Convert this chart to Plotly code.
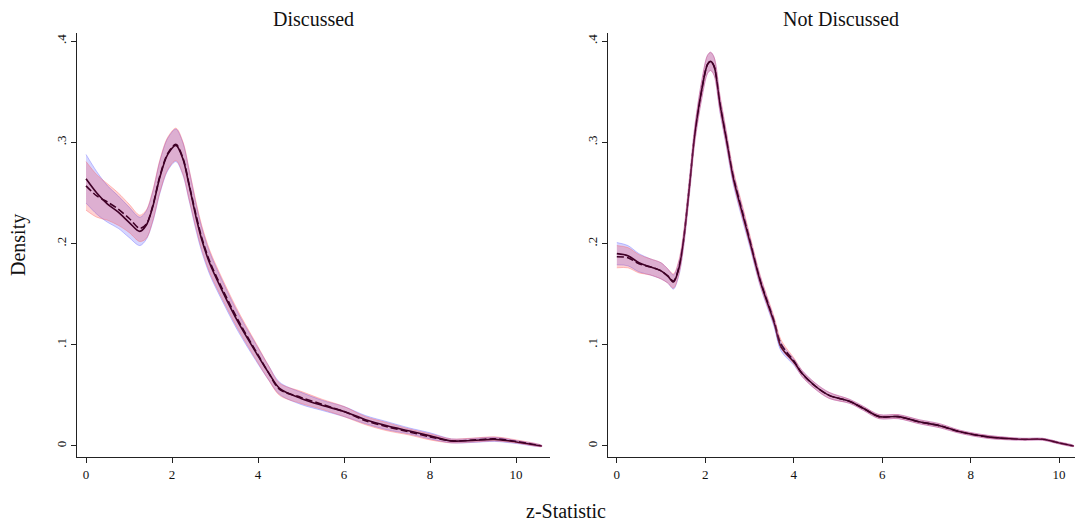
import numpy as np
import plotly.graph_objects as go

# ---------------- data ----------------
# Panel "Discussed"
disc_z = [0, 0.25, 0.5, 0.75, 1.0, 1.25, 1.4, 1.55, 1.72, 1.9, 2.09, 2.25, 2.4, 2.57, 2.69,
          2.88, 3.16, 3.54, 4.0, 4.25, 4.5, 5.0, 5.5, 6.0, 6.5, 7.0, 7.5, 8.0, 8.5, 9.0,
          9.5, 10.0, 10.6]
disc_solid = [0.264, 0.250, 0.239, 0.231, 0.221, 0.212, 0.218, 0.236, 0.266, 0.288, 0.297,
              0.284, 0.257, 0.224, 0.204, 0.180, 0.154, 0.122, 0.089, 0.072, 0.057, 0.047,
              0.040, 0.034, 0.026, 0.020, 0.015, 0.010, 0.005, 0.0055, 0.0065, 0.004, 0.0]
disc_dashed = [0.257, 0.247, 0.241, 0.234, 0.225, 0.215, 0.219, 0.237, 0.267, 0.289, 0.298,
               0.285, 0.258, 0.226, 0.206, 0.182, 0.156, 0.124, 0.090, 0.072, 0.056, 0.048,
               0.041, 0.034, 0.025, 0.019, 0.014, 0.009, 0.005, 0.0058, 0.007, 0.0045, 0.0]
disc_blue_hw = [0.024, 0.021, 0.018, 0.016, 0.015, 0.014, 0.014, 0.015, 0.016, 0.016, 0.016,
                0.016, 0.015, 0.013, 0.012, 0.011, 0.010, 0.009, 0.008, 0.007, 0.006, 0.006,
                0.005, 0.005, 0.004, 0.004, 0.003, 0.003, 0.002, 0.002, 0.002, 0.0015, 0.0005]
disc_red_hw = [0.024, 0.021, 0.018, 0.016, 0.014, 0.013, 0.014, 0.015, 0.016, 0.016, 0.016,
               0.016, 0.015, 0.013, 0.012, 0.011, 0.010, 0.009, 0.008, 0.007, 0.006, 0.006,
               0.005, 0.005, 0.004, 0.004, 0.003, 0.003, 0.002, 0.002, 0.002, 0.0015, 0.0005]

# Panel "Not Discussed"
nd_z = [0, 0.25, 0.5, 0.75, 1.0, 1.15, 1.28, 1.4, 1.5, 1.65, 1.76, 1.92, 2.05, 2.12, 2.2,
        2.33, 2.48, 2.63, 2.86, 3.01, 3.24, 3.56, 3.71, 4.02, 4.18, 4.49, 4.8, 5.27, 5.58,
        5.93, 6.36, 6.83, 7.3, 7.76, 8.39, 9.17, 9.63, 10.0, 10.33]
nd_solid = [0.190, 0.188, 0.181, 0.177, 0.173, 0.168, 0.162, 0.175, 0.200, 0.260, 0.307,
            0.352, 0.377, 0.380, 0.375, 0.338, 0.302, 0.265, 0.226, 0.201, 0.163, 0.121,
            0.098, 0.082, 0.072, 0.059, 0.050, 0.044, 0.037, 0.029, 0.029, 0.024, 0.020,
            0.014, 0.009, 0.0066, 0.0066, 0.003, 0.0]
nd_dashed = [0.187, 0.186, 0.180, 0.177, 0.173, 0.168, 0.163, 0.176, 0.201, 0.260, 0.307,
             0.352, 0.377, 0.380, 0.375, 0.339, 0.303, 0.267, 0.228, 0.203, 0.164, 0.123,
             0.101, 0.083, 0.072, 0.059, 0.050, 0.044, 0.037, 0.029, 0.029, 0.024, 0.020,
             0.014, 0.009, 0.0066, 0.0066, 0.003, 0.0]
nd_blue_hw = [0.011, 0.010, 0.009, 0.008, 0.008, 0.007, 0.007, 0.007, 0.007, 0.008, 0.008,
              0.009, 0.009, 0.009, 0.009, 0.008, 0.007, 0.006, 0.006, 0.005, 0.005, 0.004,
              0.004, 0.003, 0.003, 0.003, 0.003, 0.002, 0.002, 0.002, 0.002, 0.002, 0.002,
              0.0015, 0.0015, 0.001, 0.001, 0.001, 0.0005]
nd_red_hw = nd_blue_hw

x_ticks = [0, 2, 4, 6, 8, 10]
y_ticks = [0, 0.1, 0.2, 0.3, 0.4]
y_ticklabels = ["0", ".1", ".2", ".3", ".4"]
panel_titles = ["Discussed", "Not Discussed"]

# ---------------- figure ----------------
FONT = "Liberation Serif"
W, H = 1079, 524
fig = go.Figure()

BLUE_FILL = "rgba(0,0,255,0.16)"
RED_FILL = "rgba(255,0,0,0.18)"
BLUE_EDGE = "rgba(90,90,255,0.45)"
RED_EDGE = "rgba(255,90,90,0.45)"
LINE_COL = "#1a0008"


def add_panel(z, solid, dashed, blue_hw, red_hw, xa, ya):
    z = np.array(z, float)
    s = np.array(solid, float)
    d = np.array(dashed, float)
    bh = np.array(blue_hw, float)
    rh = np.array(red_hw, float)
    fig.add_trace(go.Scatter(x=z, y=s, mode="lines", xaxis=xa, yaxis=ya,
                             line=dict(color=LINE_COL, width=1.6, shape="spline", smoothing=0.9),
                             showlegend=False, hoverinfo="skip"))
    fig.add_trace(go.Scatter(x=z, y=d, mode="lines", xaxis=xa, yaxis=ya,
                             line=dict(color=LINE_COL, width=1.6, dash="7px,3px",
                                       shape="spline", smoothing=0.9),
                             showlegend=False, hoverinfo="skip"))
    for center, hw, fill, edge in [(s, bh, BLUE_FILL, BLUE_EDGE), (d, rh, RED_FILL, RED_EDGE)]:
        lo = center - hw
        hi = center + hw
        xs = np.concatenate([z, z[::-1]])
        ys = np.concatenate([hi, lo[::-1]])
        fig.add_trace(go.Scatter(x=xs, y=ys, mode="lines", xaxis=xa, yaxis=ya,
                                 fill="toself", fillcolor=fill,
                                 line=dict(color=edge, width=0.8, shape="spline", smoothing=0.9),
                                 showlegend=False, hoverinfo="skip"))


add_panel(disc_z, disc_solid, disc_dashed, disc_blue_hw, disc_red_hw, "x", "y")
add_panel(nd_z, nd_solid, nd_dashed, nd_blue_hw, nd_red_hw, "x2", "y2")

y_top, y_bot = 33, 457
ydom = [1 - y_bot / H, 1 - y_top / H]
left_dom = [77 / W, 550 / W]
right_dom = [608 / W, 1075 / W]
yrange = [-0.0109, 0.408]

axis_common = dict(showgrid=False, zeroline=False, showline=True, linecolor="#222",
                   linewidth=1.2, ticks="outside", ticklen=5, tickwidth=1, tickcolor="#222",
                   tickfont=dict(family=FONT, size=13, color="#111"))

fig.update_layout(
    width=W, height=H,
    margin=dict(l=0, r=0, t=0, b=0),
    paper_bgcolor="white", plot_bgcolor="white",
    xaxis=dict(domain=left_dom, range=[-0.21, 10.79], tickvals=x_ticks, anchor="y", **axis_common),
    yaxis=dict(domain=ydom, range=yrange, tickvals=y_ticks, ticktext=y_ticklabels,
               tickangle=-90, anchor="x", **axis_common),
    xaxis2=dict(domain=right_dom, range=[-0.2, 10.36], tickvals=x_ticks, anchor="y2", **axis_common),
    yaxis2=dict(domain=ydom, range=yrange, tickvals=y_ticks, ticktext=y_ticklabels,
                tickangle=-90, anchor="x2", **axis_common),
)

ann = [
    dict(text=panel_titles[0], x=(77 + 550) / 2 / W, y=1 - 19 / H),
    dict(text=panel_titles[1], x=(608 + 1075) / 2 / W, y=1 - 19 / H),
    dict(text="z-Statistic", x=566 / W, y=1 - 511 / H),
]
for a in ann:
    fig.add_annotation(text=a["text"], x=a["x"], y=a["y"], xref="paper", yref="paper",
                       showarrow=False, xanchor="center", yanchor="middle",
                       font=dict(family=FONT, size=20, color="#111"))
fig.add_annotation(text="Density", x=18 / W, y=1 - 245 / H, xref="paper", yref="paper",
                   showarrow=False, textangle=-90, xanchor="center", yanchor="middle",
                   font=dict(family=FONT, size=20, color="#111"))

fig.write_html("out.html", config={"displayModeBar": False},
               post_script="document.body.style.margin='0px';document.body.style.overflow='hidden';")
